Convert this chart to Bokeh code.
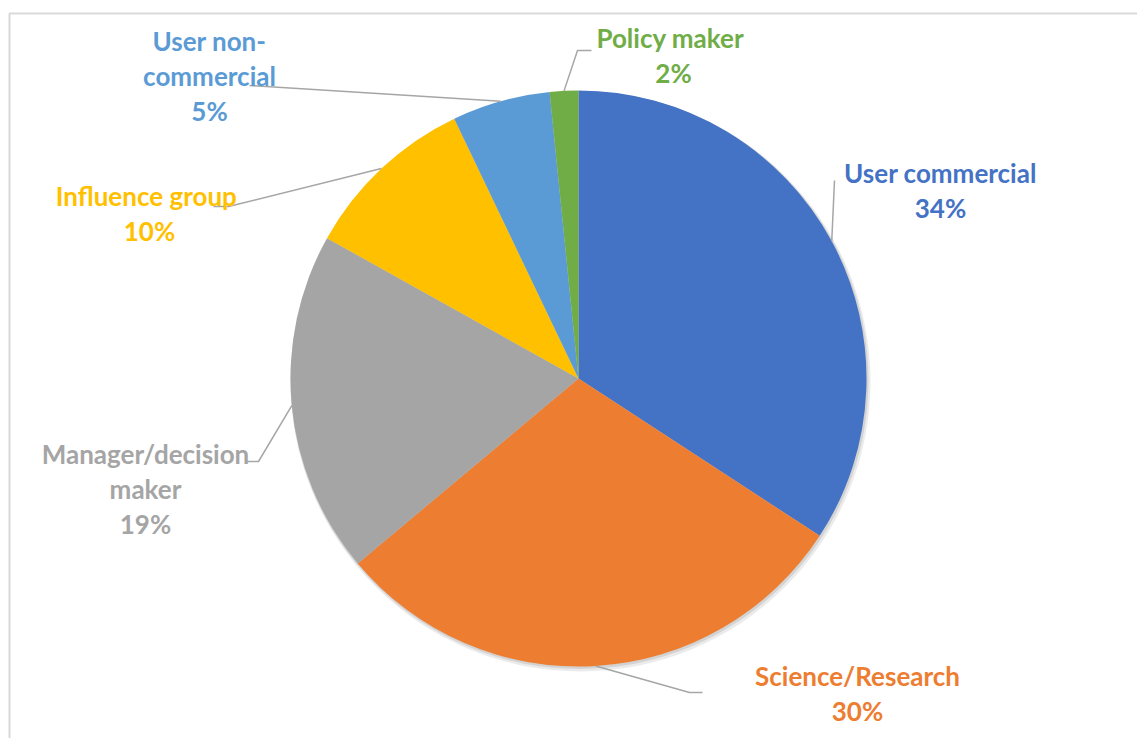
import numpy as np
from bokeh.plotting import figure
from bokeh.models import ColumnDataSource, Range1d
from bokeh.core.properties import value
from bokeh.embed import file_html
from bokeh.resources import INLINE

# ---- data ----
categories = ["User commercial", "Science/Research", "Manager/decision maker",
              "Influence group", "User non-commercial", "Policy maker"]
label_lines = [["User commercial"], ["Science/Research"], ["Manager/decision", "maker"],
               ["Influence  group"], ["User non-", "commercial"], ["Policy  maker"]]
shares = [34.2, 29.7, 19.2, 9.8, 5.5, 1.6]
pct_labels = ["34%", "30%", "19%", "10%", "5%", "2%"]
colors = ["#4472C4", "#ED7D31", "#A5A5A5", "#FFC000", "#5B9BD5", "#70AD47"]

# ---- layout (page pixel positions) ----
W, H = 1137, 738
def px(x):
    return x
def py(y):
    return H - y

center_page = (578, 378)
R = 288
label_pos = [(940, 172), (857, 675), (145, 453), (149, 195), (209, 40), (673, 37)]
leader_elbows = [[(834, 180)], [(702, 692), (689, 692)], [(245, 461), (258, 461)],
                 [(213, 206), (228, 206)], [(249, 85)], [(591, 50), (577, 50)]]
LINE_GAP = 35

p = figure(width=W, height=H, output_backend="svg", toolbar_location=None,
           x_range=Range1d(0, W), y_range=Range1d(0, H), min_border=0)
p.axis.visible = False
p.grid.visible = False
p.outline_line_color = None
p.background_fill_color = "white"
p.border_fill_color = "white"

# chart-area border
p.line(x=[px(9), px(9), W], y=[0, py(13), py(13)], line_color="#D9D9D9", line_width=2)

cx, cy = px(center_page[0]), py(center_page[1])

# slice angles (clockwise from 12 o'clock)
frac = np.array(shares) / sum(shares)
cum = np.concatenate([[0], np.cumsum(frac)])
start = np.pi / 2 - cum[:-1] * 2 * np.pi
end = np.pi / 2 - cum[1:] * 2 * np.pi
mid = (start + end) / 2

# shadow
p.circle(x=[cx + 2], y=[cy - 3], radius=R + 2, fill_color="#000000", fill_alpha=0.08, line_color=None)
p.circle(x=[cx + 1], y=[cy - 1.5], radius=R + 1, fill_color="#000000", fill_alpha=0.10, line_color=None)

src = ColumnDataSource(dict(start=start, end=end, color=colors, cat=categories))
p.wedge(x=cx, y=cy, radius=R, start_angle="start", end_angle="end", direction="clock",
        fill_color="color", line_color=None, source=src)

# leader lines
xs, ys = [], []
for i in range(len(shares)):
    ex = cx + R * np.cos(mid[i])
    ey = cy + R * np.sin(mid[i])
    lx = [px(a) for a, b in leader_elbows[i]] + [ex]
    ly = [py(b) for a, b in leader_elbows[i]] + [ey]
    xs.append(lx)
    ys.append(ly)
p.multi_line(xs=xs, ys=ys, line_color="#A6A6A6", line_width=1.5)

# labels
tx, ty, tt, tc = [], [], [], []
for i in range(len(shares)):
    lines = label_lines[i] + [pct_labels[i]]
    x0, y0 = label_pos[i]
    for j, t in enumerate(lines):
        tx.append(px(x0))
        ty.append(py(y0 + j * LINE_GAP))
        tt.append(t)
        tc.append(colors[i])
p.text(x=tx, y=ty, text=tt, text_color=tc, text_align="center", text_baseline="middle",
       text_font=value("Lato"), text_font_style="bold", text_font_size="26px")

open("out.html", "w").write(file_html(p, INLINE))
